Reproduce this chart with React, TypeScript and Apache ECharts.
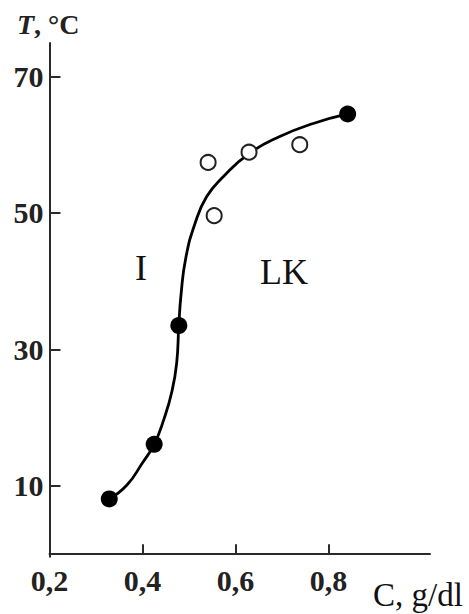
import React, { useEffect, useRef } from "react";
import * as echarts from "echarts";

// Concentration C (g/dl) and temperature T (°C)
const filledPoints: [number, number][] = [
  [0.3285, 8.1],
  [0.425, 16.1],
  [0.478, 33.5],
  [0.841, 64.5],
];

const openPoints: [number, number][] = [
  [0.541, 57.4],
  [0.629, 58.9],
  [0.738, 60.0],
  [0.554, 49.6],
];

// Phase boundary
const boundaryCurve: [number, number][] = [
  [0.3285, 8.1],
  [0.366, 10.1],
  [0.4, 13.4],
  [0.425, 16.1],
  [0.446, 19.8],
  [0.463, 23.8],
  [0.4734, 28.0],
  [0.478, 33.5],
  [0.483, 38.2],
  [0.493, 43.4],
  [0.513, 48.5],
  [0.538, 52.4],
  [0.5735, 55.3],
  [0.629, 58.7],
  [0.695, 61.2],
  [0.767, 63.1],
  [0.841, 64.5],
];

const xTickValues = [0.4, 0.6, 0.8];
const xLabelValues = [0.2, 0.4, 0.6, 0.8];
const yTickValues = [10, 30, 50, 70];

const regionLabels = [
  { text: "I", x: 141, y: 268 },
  { text: "LK", x: 284, y: 272 },
];

const AXIS_COLOR = "#2a2a2a";
const SERIF = "'Liberation Serif', 'DejaVu Serif', serif";

export default function App() {
  const ref = useRef<HTMLDivElement>(null);

  useEffect(() => {
    document.body.style.margin = "0";
    if (!ref.current) return;
    const chart = echarts.init(ref.current, undefined, { renderer: "svg" });

    const tickLabelStyle = {
      color: "#222",
      fontFamily: SERIF,
      fontSize: 30,
      fontWeight: "bold" as const,
    };

    chart.setOption({
      animation: false,
      backgroundColor: "#fff",
      grid: {
        left: 49.5,
        right: 39,
        top: 43,
        bottom: 57.3,
        outerBoundsMode: "none",
      },
      xAxis: {
        type: "value",
        min: 0.2,
        max: 1.018,
        splitLine: { show: false },
        axisLine: { show: true, lineStyle: { color: AXIS_COLOR, width: 2 } },
        axisTick: {
          show: true,
          inside: true,
          length: 10,
          customValues: xTickValues,
          lineStyle: { color: AXIS_COLOR, width: 2 },
        },
        axisLabel: {
          ...tickLabelStyle,
          margin: 9,
          customValues: xLabelValues,
          hideOverlap: false,
          formatter: (v: number) => v.toFixed(1).replace(".", ","),
        },
      },
      yAxis: {
        type: "value",
        min: -0.36,
        max: 74.9,
        splitLine: { show: false },
        axisLine: { show: true, lineStyle: { color: AXIS_COLOR, width: 2 } },
        axisTick: {
          show: true,
          inside: true,
          length: 11,
          customValues: yTickValues,
          lineStyle: { color: AXIS_COLOR, width: 2 },
        },
        axisLabel: {
          ...tickLabelStyle,
          margin: 6,
          customValues: yTickValues,
          hideOverlap: false,
        },
      },
      graphic: [
        {
          type: "text",
          x: 17,
          y: 24,
          style: {
            text: "{t|T}{r|, °C}",
            verticalAlign: "middle",
            rich: {
              t: {
                fontFamily: SERIF,
                fontSize: 28,
                fontStyle: "italic",
                fontWeight: "bold",
                fill: "#222",
              },
              r: {
                fontFamily: SERIF,
                fontSize: 28,
                fontWeight: "bold",
                fill: "#222",
              },
            },
          },
        },
        {
          type: "text",
          x: 373,
          y: 595,
          style: {
            text: "C, g/dl",
            fontFamily: SERIF,
            fontSize: 33,
            fill: "#111",
            verticalAlign: "middle",
          },
        },
        ...regionLabels.map((r) => ({
          type: "text",
          x: r.x,
          y: r.y,
          style: {
            text: r.text,
            fontFamily: SERIF,
            fontSize: 36,
            fill: "#111",
            align: "center",
            verticalAlign: "middle",
          },
        })),
      ],
      series: [
        {
          type: "line",
          data: boundaryCurve,
          smooth: 0.5,
          symbol: "none",
          lineStyle: { color: "#000", width: 2.8 },
          z: 2,
        },
        {
          type: "scatter",
          data: filledPoints,
          symbol: "circle",
          symbolSize: 17,
          itemStyle: { color: "#000", opacity: 1 },
          z: 3,
        },
        {
          type: "scatter",
          data: openPoints,
          symbol: "circle",
          symbolSize: 15,
          itemStyle: {
            color: "#fff",
            borderColor: "#222",
            borderWidth: 2,
            opacity: 1,
          },
          z: 3,
        },
      ],
    });

    return () => chart.dispose();
  }, []);

  return <div ref={ref} style={{ width: 469, height: 614 }} />;
}
